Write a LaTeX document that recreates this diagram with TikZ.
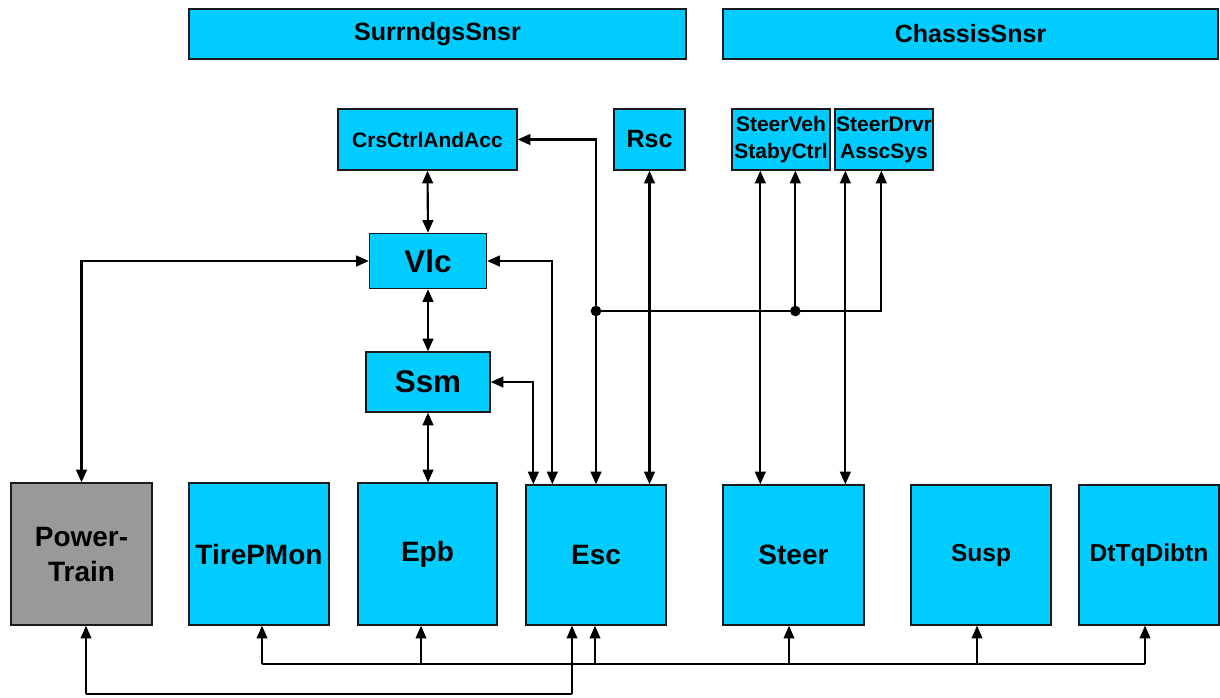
\documentclass[tikz,border=0pt]{standalone}
\usepackage{fontspec}
\setmainfont{Liberation Sans}
\usetikzlibrary{arrows.meta,calc}
\definecolor{boxcyan}{HTML}{00CCFF}
\definecolor{boxgray}{HTML}{999999}
\definecolor{boxline}{HTML}{1A1A1A}
\tikzset{
  blk/.style 2 args={draw=boxline, line width=1pt, fill=boxcyan, inner sep=0pt,
    minimum width=#1*0.75pt, minimum height=#2*0.75pt, align=center},
  fsens/.style={font=\bfseries\fontsize{18.75}{22}\selectfont},
  fsmall/.style={font=\bfseries\fontsize{15.75}{20.25}\selectfont},
  fbig/.style={font=\bfseries\fontsize{23.5}{28}\selectfont},
  fecu/.style={font=\bfseries\fontsize{21}{26.25}\selectfont},
  fecus/.style={font=\bfseries\fontsize{18.4}{22}\selectfont},
  conn/.style={line width=1.6pt},
  low/.style={line width=1.1pt},
  busline/.style={line width=1.7pt},
  jdot/.style={circle, fill=black, inner sep=0pt, minimum size=8pt}
}
\begin{document}
\begin{tikzpicture}[x=0.75pt,y=-0.75pt,
  >={Triangle[length=9.5pt,width=8pt]}]
\useasboundingbox (0,0) rectangle (1220,697);

% sensor bars
\node[blk={497}{50}, fsens] (surr) at (437.5,34) {SurrndgsSnsr};
\node[blk={495}{50}, fsens] (chas) at (970.5,34) {ChassisSnsr};

% upper functions
\node[blk={179}{61}, fsmall] (crs) at (427.5,139.5) {CrsCtrlAndAcc};
\node[blk={71}{61}, fsens] (rsc) at (649.5,139.5) {Rsc};
\node[blk={98}{61}, fsmall] (sveh) at (781,139.5) {SteerVeh\\StabyCtrl};
\node[blk={98}{61}, fsmall] (sdrv) at (884,139.5) {SteerDrvr\\AsscSys};
\node[blk={117}{55}, fbig] (vlc) at (428,261) {Vlc};
\node[blk={124}{60}, fbig] (ssm) at (428,382) {Ssm};

% ECUs
\node[blk={141}{142}, fecu, fill=boxgray] (pt) at (81.5,554) {Power-\\Train};
\node[blk={140}{142}, fecu] (tire) at (259,554) {TirePMon};
\node[blk={139}{142}, fecu] (epb) at (427.5,554) {Epb};
\node[blk={140}{140}, fecu] (esc) at (596,555) {Esc};
\node[blk={141}{140}, fecu] (steer) at (793.5,555) {Steer};
\node[blk={140}{140}, fecus] (susp) at (981,555) {Susp};
\node[blk={140}{140}, fecus] (dt) at (1149,555) {DtTqDibtn};

% upper connectors
\draw[conn,<->] (crs.south) -- (vlc.north);
\draw[conn,<->] (vlc.south) -- (ssm.north);
\draw[conn,<->] (ssm.south) -- (ssm.south |- epb.north);
\draw[conn,<->] (pt.north) |- (vlc.west);
\coordinate (escA) at ($(esc.north west)+(8,0)$);
\coordinate (escB) at ($(esc.north west)+(27,0)$);
\draw[conn,<->] (vlc.east) -| (escB);
\draw[conn,<->] (ssm.east) -| (escA);
\draw[conn,<->] (crs.east) -| (esc.north);
\draw[conn,<->] (rsc.south) -- (rsc.south |- esc.north);

\coordinate (sv1) at ($(sveh.south west)+(29,0)$);
\coordinate (sv2) at ($(sveh.south west)+(64,0)$);
\coordinate (sd1) at ($(sdrv.south west)+(11,0)$);
\coordinate (sd2) at ($(sdrv.south west)+(47,0)$);
\draw[conn,<->] (sv1) -- (sv1 |- steer.north);
\draw[conn,<->] (sd1) -- (sd1 |- steer.north);

\coordinate (j1) at (596,311);
\coordinate (j2) at (sv2 |- j1);
\draw[conn,->] (j1) -| (sd2);
\draw[conn,->] (j2) -- (sv2);
\node[jdot] (d1) at (j1) {};
\node[jdot] (d2) at (j2) {};

% lower bus
\coordinate (busy) at (0,664);
\coordinate (lowy) at (0,694);
\coordinate (ptb) at ($(pt.south)+(4.5,0)$);
\coordinate (tb) at ($(tire.south)+(3,0)$);
\coordinate (eb) at ($(epb.south)+(-6.5,0)$);
\coordinate (esb1) at ($(esc.south)+(-24,0)$);
\coordinate (esb2) at ($(esc.south)+(-1,0)$);
\coordinate (stb) at ($(steer.south)+(-4.5,0)$);
\coordinate (sub) at ($(susp.south)+(-4,0)$);
\coordinate (dtb) at ($(dt.south)+(-4,0)$);

\draw[busline] (tb |- busy) -- (dtb |- busy);
\foreach \p in {tb,eb,esb2,stb,sub,dtb}
  \draw[low,->] (\p |- busy) -- (\p);
\draw[busline] (ptb |- lowy) -- (esb1 |- lowy);
\draw[low,->] (ptb |- lowy) -- (ptb);
\draw[low,->] (esb1 |- lowy) -- (esb1);
\end{tikzpicture}
\end{document}
